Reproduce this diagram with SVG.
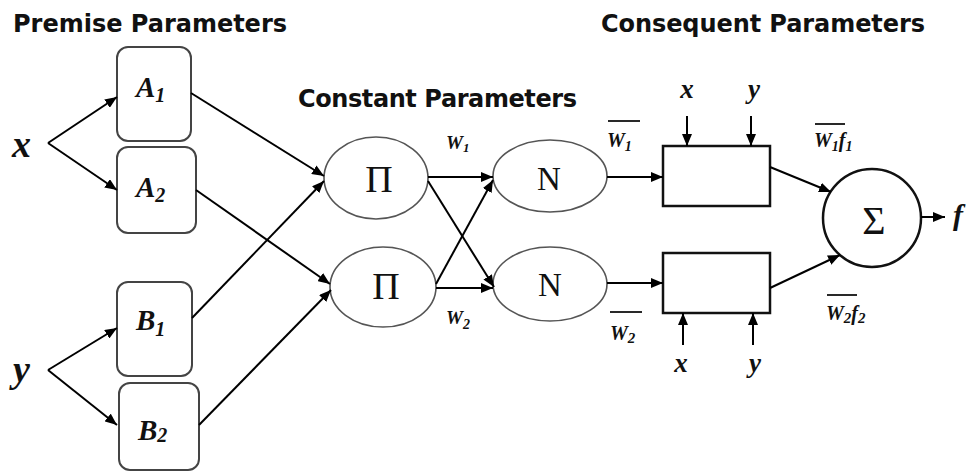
<svg xmlns="http://www.w3.org/2000/svg" width="974" height="473" viewBox="0 0 974 473">
<defs>
<marker id="ah" viewBox="0 0 12 10" refX="12" refY="5" markerWidth="12" markerHeight="10" markerUnits="userSpaceOnUse" orient="auto">
<path d="M0,0 L12,5 L0,10 Z" fill="#000"/>
</marker>
<style>
.title{font-family:"DejaVu Sans",sans-serif;font-weight:bold;font-size:24px;fill:#111}
.m{font-family:"Liberation Serif",serif;font-style:italic;font-weight:bold;fill:#111}
.g{font-family:"Liberation Serif",serif;fill:#111}
.box{fill:#fff;stroke:#444;stroke-width:2}
.ell{fill:#fff;stroke:#555;stroke-width:1.6}
.rect{fill:#fff;stroke:#111;stroke-width:2.5}
.c line,.c polyline{stroke:#000;stroke-width:2;fill:none}
.bar{stroke:#111;stroke-width:1.8}
</style>
</defs>
<rect width="974" height="473" fill="#fff"/>

<text class="title" x="13" y="32" textLength="274">Premise Parameters</text>
<text class="title" x="298" y="107" textLength="279">Constant Parameters</text>
<text class="title" x="601" y="32" textLength="324">Consequent Parameters</text>

<g id="in-x"><text class="m" x="12" y="157" font-size="38">x</text></g>
<g id="in-y"><text class="m" x="13" y="382" font-size="38">y</text></g>

<g id="A1"><rect class="box" x="117" y="47" width="74" height="94" rx="11"/>
<text class="m" x="136" y="97" font-size="29">A<tspan font-size="20" dy="5">1</tspan></text></g>
<g id="A2"><rect class="box" x="117" y="147" width="79" height="86" rx="11"/>
<text class="m" x="136" y="197" font-size="29">A<tspan font-size="20" dy="5">2</tspan></text></g>
<g id="B1"><rect class="box" x="117" y="282" width="75" height="94" rx="11"/>
<text class="m" x="136" y="330" font-size="29">B<tspan font-size="20" dy="6">1</tspan></text></g>
<g id="B2"><rect class="box" x="119" y="383" width="80" height="87" rx="11"/>
<text class="m" x="138" y="440" font-size="29">B<tspan font-size="20" dy="2">2</tspan></text></g>

<g id="P1"><ellipse class="ell" cx="376" cy="178" rx="52" ry="41"/>
<text class="g" x="379" y="192" font-size="38" text-anchor="middle">Π</text></g>
<g id="P2"><ellipse class="ell" cx="383" cy="287" rx="53" ry="40"/>
<text class="g" x="386" y="299" font-size="38" text-anchor="middle">Π</text></g>

<g id="N1"><ellipse class="ell" cx="550" cy="176" rx="57" ry="36"/>
<text class="g" x="549" y="190" font-size="33" text-anchor="middle">N</text></g>
<g id="N2"><ellipse class="ell" cx="550" cy="284" rx="57" ry="37"/>
<text class="g" x="550" y="296" font-size="33" text-anchor="middle">N</text></g>

<g id="R1"><rect class="rect" x="663" y="146" width="107" height="60"/></g>
<g id="R2"><rect class="rect" x="663" y="253" width="107" height="60"/></g>

<g id="S"><circle cx="872" cy="218" r="49" fill="#fff" stroke="#111" stroke-width="2.5"/>
<text class="g" x="874" y="234" font-size="40" text-anchor="middle">Σ</text></g>

<g id="labels">
<text class="m" x="446" y="149" font-size="19">W<tspan font-size="13" dy="3">1</tspan></text>
<text class="m" x="446" y="324" font-size="19">W<tspan font-size="14" dy="5">2</tspan></text>

<line class="bar" x1="608" y1="121" x2="640" y2="121"/>
<text class="m" x="607" y="147" font-size="20">W<tspan font-size="14" dy="4">1</tspan></text>
<line class="bar" x1="610" y1="312" x2="642" y2="312"/>
<text class="m" x="610" y="340" font-size="20">W<tspan font-size="15" dy="3">2</tspan></text>

<line class="bar" x1="815" y1="124" x2="845" y2="124"/>
<text class="m" x="814" y="147" font-size="20">W<tspan font-size="14" dy="4">1</tspan><tspan font-size="20" dy="-4">f</tspan><tspan font-size="14" dy="4">1</tspan></text>
<line class="bar" x1="827" y1="295" x2="857" y2="295"/>
<text class="m" x="826" y="320" font-size="20">W<tspan font-size="15" dy="3">2</tspan><tspan font-size="20" dy="-3">f</tspan><tspan font-size="15" dy="3">2</tspan></text>

<text class="m" x="687" y="98" font-size="27" text-anchor="middle">x</text>
<text class="m" x="754" y="98" font-size="27" text-anchor="middle">y</text>
<text class="m" x="681" y="372" font-size="27" text-anchor="middle">x</text>
<text class="m" x="755" y="372" font-size="27" text-anchor="middle">y</text>
<text class="m" x="953" y="225" font-size="30">f</text>
</g>

<g id="connectors" class="c">
<line x1="48" y1="143" x2="117" y2="97" marker-end="url(#ah)"/>
<line x1="48" y1="143" x2="117" y2="190" marker-end="url(#ah)"/>
<line x1="48" y1="370" x2="117" y2="328" marker-end="url(#ah)"/>
<line x1="48" y1="370" x2="117" y2="425" marker-end="url(#ah)"/>
<line x1="191" y1="93" x2="324" y2="176" marker-end="url(#ah)"/>
<line x1="192" y1="318" x2="324" y2="181" marker-end="url(#ah)"/>
<line x1="196" y1="190" x2="330" y2="284" marker-end="url(#ah)"/>
<line x1="199" y1="425" x2="331" y2="290" marker-end="url(#ah)"/>
<line x1="428" y1="177" x2="493" y2="177" marker-end="url(#ah)"/>
<line x1="428" y1="181" x2="494" y2="287" marker-end="url(#ah)"/>
<line x1="436" y1="288" x2="493" y2="288" marker-end="url(#ah)"/>
<line x1="436" y1="284" x2="493" y2="180" marker-end="url(#ah)"/>
<line x1="607" y1="177" x2="663" y2="177" marker-end="url(#ah)"/>
<line x1="607" y1="283" x2="663" y2="283" marker-end="url(#ah)"/>
<line x1="770" y1="167" x2="831" y2="192" marker-end="url(#ah)"/>
<line x1="770" y1="288" x2="840" y2="255" marker-end="url(#ah)"/>
<line x1="921" y1="217" x2="945" y2="217" marker-end="url(#ah)"/>
<line x1="687" y1="116" x2="687" y2="146" marker-end="url(#ah)"/>
<line x1="751" y1="116" x2="751" y2="146" marker-end="url(#ah)"/>
<line x1="683" y1="345" x2="683" y2="313" marker-end="url(#ah)"/>
<line x1="753" y1="345" x2="753" y2="313" marker-end="url(#ah)"/>
</g>
</svg>
